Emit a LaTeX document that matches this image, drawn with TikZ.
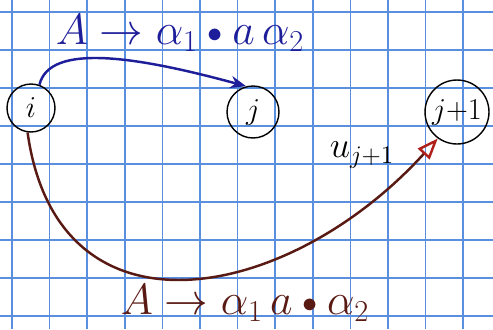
\documentclass[tikz,border=0pt]{standalone}
\usepackage{tikz}
\usetikzlibrary{arrows.meta,positioning}
\definecolor{gridblue}{HTML}{5A8FE0}
\definecolor{inkblue}{HTML}{1E1E9A}
\definecolor{inkbrown}{HTML}{5A1A14}
\definecolor{inkred}{HTML}{B0201A}
\newcommand{\itemdot}{\mathbin{\raisebox{0.1ex}{$\scriptstyle\bullet$}}}
\tikzset{
  gridline/.style={draw=gridblue, line width=1pt},
  statenode/.style={
    circle, draw=black, thick, minimum size=#1,
    font=\LARGE, inner sep=0pt
  },
  statenode/.default=0.96cm,
  itemarrow/.style={-{Stealth[length=9pt, width=7pt]}, line width=1.4pt, color=#1},
  itemarrow/.default=inkblue,
  scanarrow/.style={
    -{Triangle[open, length=12pt, width=9pt, color=inkred]},
    line width=1.4pt, color=inkbrown
  },
  itemlabel/.style={font=\fontsize{24}{28}\selectfont, color=#1},
  itemlabel/.default=inkblue,
}
\begin{document}
\begin{tikzpicture}[x=0.02cm, y=-0.02cm]
\useasboundingbox[fill=white] (0,0) rectangle (493,329);

% Squared paper
\foreach \k in {0,...,12}
  \draw[gridline] ({12+37.6*\k},0) -- ({12+37.6*\k},329);
\foreach \k in {0,...,8}
  \draw[gridline] (0,{12+38*\k}) -- (493,{12+38*\k});

% States
\node[statenode] (i) at (31,108) {$i$};
\node[statenode=1.04cm] (j) at (253,112) {$j$};
\node[statenode=1.28cm] (jnext) at (457,112) {$j{+}1$};

% Items
\draw[itemarrow] (i.70) .. controls +(10,-42) and +(-110,-30) .. (j.105);
\draw[scanarrow] (i.262) .. controls +(30,215) and +(-150,165) .. (jnext.234);

% Labels
\node[itemlabel=inkblue] (itemold) at (180,33) {$A\to\alpha_1\itemdot a\,\alpha_2$};
\node[itemlabel=inkbrown] (itemnew) at (245,303) {$A\to\alpha_1\, a\itemdot\alpha_2$};
\node[font=\fontsize{20}{24}\selectfont] (token) at (362,155) {$u_{j+1}$};

\end{tikzpicture}
\end{document}
